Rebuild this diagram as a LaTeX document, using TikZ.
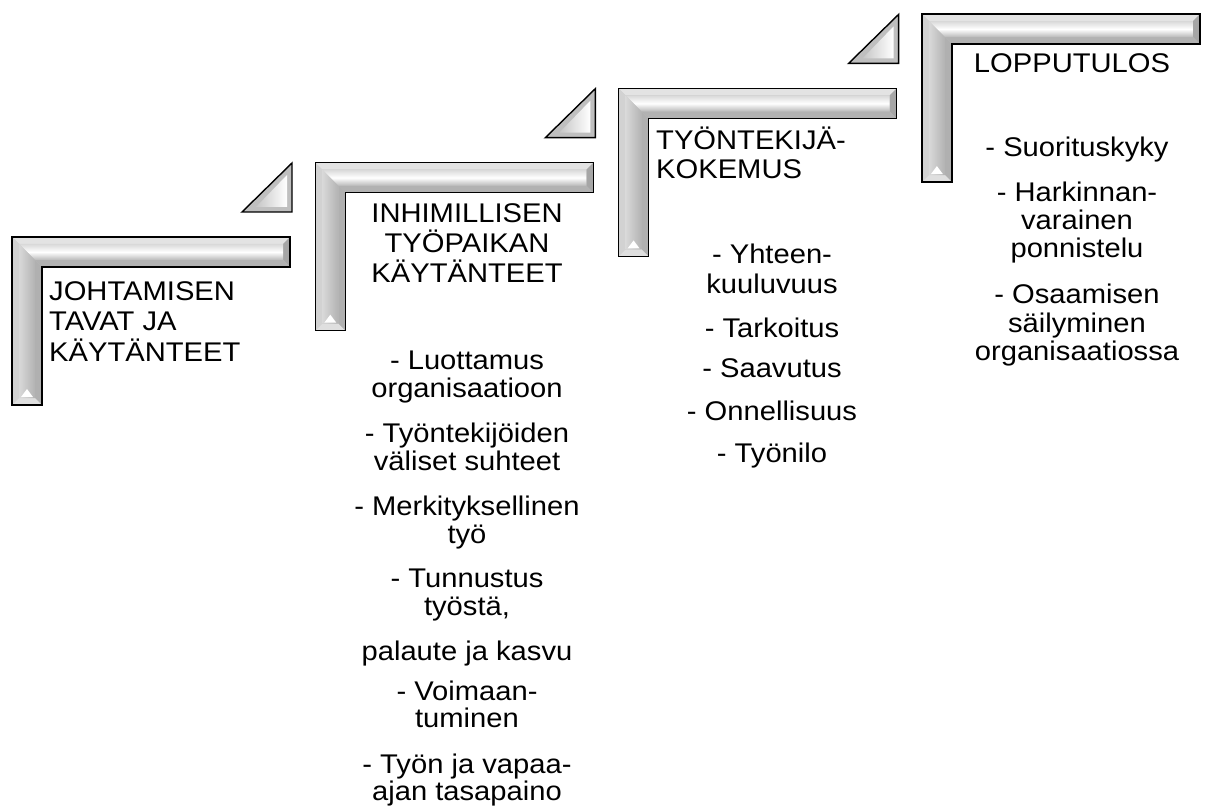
\documentclass[tikz,border=0pt]{standalone}
\usepackage{fontspec}
\setmainfont[FakeStretch=1.08]{Liberation Sans}
\begin{document}
\begin{tikzpicture}[x=1pt,y=-1pt,
  outline/.style={draw=black, line width=1.4pt, line join=miter},
  txt/.style={font=\fontsize{27}{30}\selectfont, inner sep=0pt, anchor=base},
  txtl/.style={txt, anchor=base west}]
\useasboundingbox (0,0) rectangle (1209,810);

% one bevelled L-shaped stair step, top-left corner at (#1,#2)
\newcommand\stairstep[2]{%
  \begin{scope}[shift={(#1,#2)}]
    \fill[gray!45] (0,0) -- (278,0) -- (278,30) -- (30,30) -- (30,168) -- (0,168) -- cycle;
    \fill[gray!22] (0,0) -- (278,0) -- (271,7) -- (7,7) -- cycle;
    \fill[gray!70] (278,0) -- (278,30) -- (271,23) -- (271,7) -- cycle;
    \fill[gray!60] (278,30) -- (30,30) -- (23,23) -- (271,23) -- cycle;
    \fill[gray!35] (0,0) -- (7,7) -- (7,161) -- (0,168) -- cycle;
    \fill[gray!62] (30,30) -- (30,168) -- (23,161) -- (23,23) -- cycle;
    \fill[gray!25] (0,168) -- (7,161) -- (23,161) -- (30,168) -- cycle;
    \shade[top color=gray!30, bottom color=gray!55, middle color=white]
      (7,7) -- (271,7) -- (271,23) -- (23,23) -- cycle;
    \shade[left color=gray!30, right color=gray!60]
      (7,7) -- (23,23) -- (23,161) -- (7,161) -- cycle;
    \fill[white] (9,160) -- (15,152) -- (21,160) -- cycle;
    \draw[outline] (0,0) -- (278,0) -- (278,30) -- (30,30) -- (30,168) -- (0,168) -- cycle;
  \end{scope}}

% small bevelled triangle between two steps, top-left of its box at (#1,#2)
\newcommand\stairwedge[2]{%
  \begin{scope}[shift={(#1,#2)}]
    \fill[gray!50] (0,49) -- (50,49) -- (50,0) -- cycle;
    \shade[left color=gray!45, right color=white] (14,44) -- (45,44) -- (45,12) -- cycle;
    \draw[outline] (0,49) -- (50,49) -- (50,0) -- cycle;
  \end{scope}}

\stairstep{12}{237}
\stairstep{315.3}{162.7}
\stairstep{618.6}{88.4}
\stairstep{921.9}{14.1}

\stairwedge{242}{163}
\stairwedge{545.3}{88.7}
\stairwedge{848.6}{14.4}

% headings
\node[txtl] (h1a) at (49,300) {JOHTAMISEN};
\node[txtl] (h1b) at (49,330.5) {TAVAT JA};
\node[txtl] (h1c) at (49,361) {KÄYTÄNTEET};

\node[txt] (h2a) at (467,223) {INHIMILLISEN};
\node[txt] (h2b) at (467,252.5) {TYÖPAIKAN};
\node[txt] (h2c) at (467,282) {KÄYTÄNTEET};

\node[txtl] (h3a) at (656,150) {TYÖNTEKIJÄ-};
\node[txtl] (h3b) at (656,179) {KOKEMUS};

\node[txt] (h4a) at (1072,73) {LOPPUTULOS};

% item lists
\foreach \t/\y [count=\i] in {{- Luottamus}/369, organisaatioon/397,
  {- Työntekijöiden}/442, {väliset suhteet}/470,
  {- Merkityksellinen}/515, työ/543,
  {- Tunnustus}/587, {työstä,}/615,
  {palaute ja kasvu}/660,
  {- Voimaan-}/700, tuminen/727,
  {- Työn ja vapaa-}/773, {ajan tasapaino}/800}
  \node[txt] (a\i) at (467,\y) {\t};

\foreach \t/\y [count=\i] in {{- Yhteen-}/263, kuuluvuus/293,
  {- Tarkoitus}/337, {- Saavutus}/377, {- Onnellisuus}/420, {- Työnilo}/462}
  \node[txt] (b\i) at (772,\y) {\t};

\foreach \t/\y [count=\i] in {{- Suorituskyky}/157, {- Harkinnan-}/202,
  varainen/230, ponnistelu/258, {- Osaamisen}/303, säilyminen/332,
  organisaatiossa/360}
  \node[txt] (c\i) at (1077,\y) {\t};
\end{tikzpicture}
\end{document}
